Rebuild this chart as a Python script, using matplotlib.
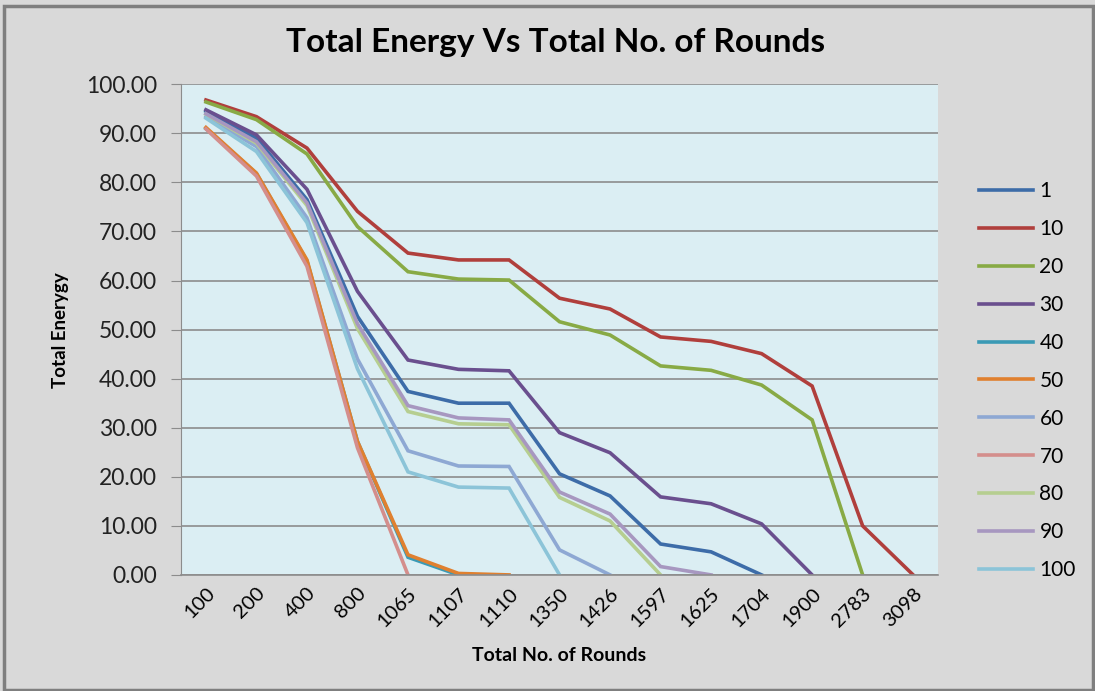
import matplotlib.pyplot as plt
from matplotlib.patches import Rectangle

plt.rcParams['font.family'] = ['Lato', 'DejaVu Sans']

rounds = ["100", "200", "400", "800", "1065", "1107", "1110", "1350",
          "1426", "1597", "1625", "1704", "1900", "2783", "3098"]

# energy per series, each series stops once it reaches 0
e1 = [94.5, 89.0, 76.5, 52.7, 37.4, 35.0, 35.0, 20.6, 16.1, 6.3, 4.7, 0.0]
e10 = [96.8, 93.4, 87.0, 74.1, 65.6, 64.2, 64.2, 56.4, 54.2, 48.5, 47.6, 45.1, 38.5, 10.0, 0.0]
e20 = [96.4, 92.8, 85.8, 71.0, 61.8, 60.3, 60.1, 51.6, 48.9, 42.6, 41.7, 38.7, 31.6, 0.0]
e30 = [94.8, 89.7, 78.6, 57.8, 43.8, 41.9, 41.6, 29.0, 24.9, 15.9, 14.5, 10.4, 0.0]
e40 = [91.0, 81.8, 64.0, 27.2, 3.6, 0.0]
e50 = [91.2, 81.9, 64.2, 27.2, 4.1, 0.3, 0.0]
e60 = [93.4, 87.3, 72.8, 44.0, 25.3, 22.2, 22.1, 5.1, 0.0]
e70 = [90.9, 81.3, 62.9, 25.9, 0.0]
e80 = [93.9, 88.0, 75.3, 50.2, 33.3, 30.8, 30.6, 15.8, 11.0, 0.0]
e90 = [94.0, 88.3, 75.8, 51.2, 34.5, 32.0, 31.6, 16.9, 12.4, 1.7, 0.0]
e100 = [93.1, 86.3, 71.8, 42.0, 21.0, 17.9, 17.7, 0.0]

names = ["1", "10", "20", "30", "40", "50", "60", "70", "80", "90", "100"]
series = [e1, e10, e20, e30, e40, e50, e60, e70, e80, e90, e100]
colors = ["#3d6ca8", "#b03f3c", "#88aa45", "#6a4f8e", "#3b9ab5", "#e0802f",
          "#8ea8d3", "#d48e8c", "#b6ce90", "#a797c0", "#8cc4d8"]

fig = plt.figure(figsize=(10.95, 6.91), dpi=100, facecolor="#d9d9d9")
fig.patches.append(Rectangle((0.004, 0.002), 0.994, 0.99, transform=fig.transFigure,
                             fill=False, edgecolor="#7f7f7f", linewidth=2.5))

ax = fig.add_axes([0.165, 0.168, 0.692, 0.71])
ax.set_facecolor("#dbeef3")

for name, vals, c in zip(names, series, colors):
    ax.plot(range(len(vals)), vals, color=c, lw=2.6, label=name, solid_joinstyle="miter")

ax.set_xlim(-0.5, len(rounds) - 0.5)
ax.set_ylim(0, 100)
ax.set_yticks(range(0, 101, 10))
ax.set_yticklabels([f"{v:.2f}" for v in range(0, 101, 10)])
ax.set_xticks(range(len(rounds)))
ax.set_xticklabels(rounds, rotation=45, ha="right", rotation_mode="anchor")
ax.tick_params(axis="x", length=0, pad=7, labelsize=14.5, colors="#000000")
ax.tick_params(axis="y", length=7, color="#8c8c8c", pad=10, labelsize=16.5, labelcolor="#222222")
ax.grid(axis="y", color="#8c8c8c", lw=1.2)
ax.set_axisbelow(True)
for s in ["top", "right"]:
    ax.spines[s].set_visible(False)
ax.spines["left"].set_color("#8c8c8c")
ax.spines["bottom"].set_color("#8c8c8c")
ax.spines["bottom"].set_linewidth(1.2)

fig.text(0.507, 0.939, "Total Energy Vs Total No. of Rounds", ha="center", va="center",
         fontsize=24, fontweight="bold")
fig.text(0.511, 0.051, "Total No. of Rounds", ha="center", va="center",
         fontsize=14, fontweight="bold")
fig.text(0.055, 0.522, "Total Enerygy", ha="center", va="center", rotation=90,
         fontsize=13.5, fontweight="bold")

fig.legend(loc="upper left", bbox_to_anchor=(0.877, 0.765), frameon=False,
           fontsize=15, handlelength=2.6, labelspacing=0.86, handletextpad=0.3)

fig.savefig("out.png", dpi=100, facecolor=fig.get_facecolor())
